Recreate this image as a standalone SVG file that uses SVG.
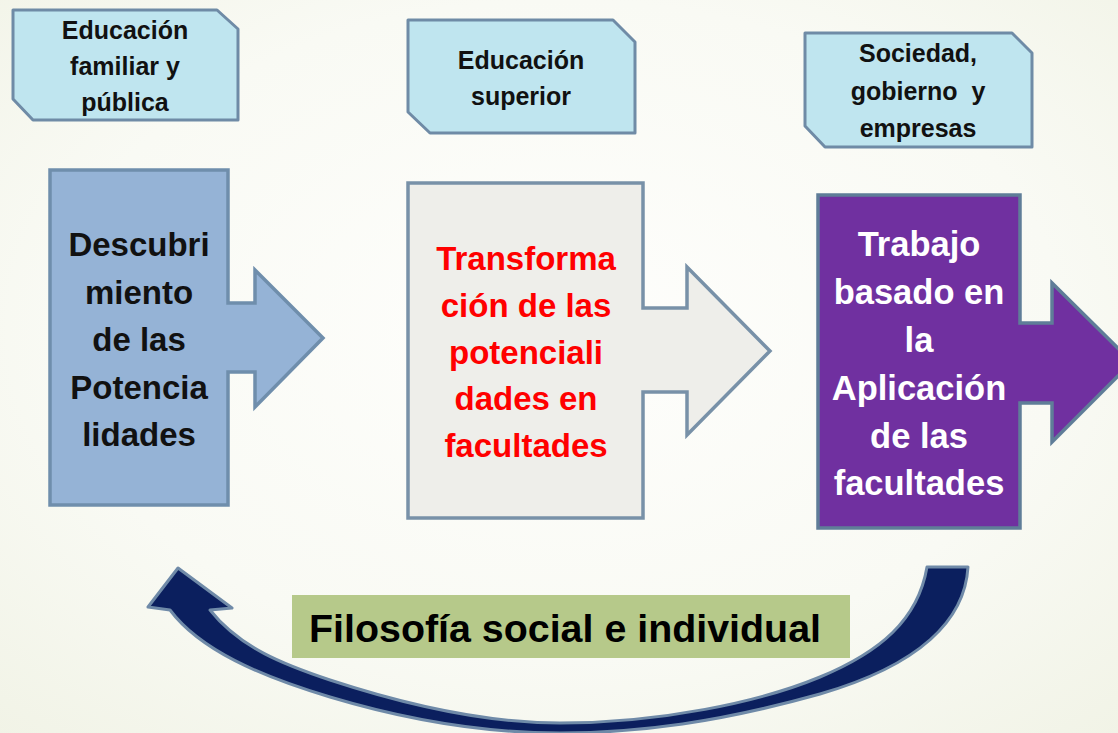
<svg xmlns="http://www.w3.org/2000/svg" width="1118" height="733" viewBox="0 0 1118 733">
<defs>
<radialGradient id="bg" cx="0.5" cy="0.45" r="0.75">
<stop offset="0" stop-color="#fefefc"/>
<stop offset="0.6" stop-color="#f9faf4"/>
<stop offset="1" stop-color="#f1f3e6"/>
</radialGradient>
<style>
.tag{fill:#bfe5ef;stroke:#6f8ba6;stroke-width:3;stroke-linejoin:round}
.tt{font-family:"Liberation Sans",Arial,sans-serif;font-weight:bold;font-size:25px;fill:#111;text-anchor:middle;white-space:pre}
.mt{font-family:"Liberation Sans",Arial,sans-serif;font-weight:bold;font-size:33px;text-anchor:middle}
.box{stroke-width:3.5;stroke-linejoin:miter}
</style>
</defs>
<rect width="1118" height="733" fill="url(#bg)"/>

<g id="tag1">
<path class="tag" d="M13,10 H217 L238,29 V120 H33 L13,99 Z"/>
<text class="tt" x="125" y="39">Educación</text>
<text class="tt" x="125" y="75">familiar y</text>
<text class="tt" x="125" y="111">pública</text>
</g>
<g id="tag2">
<path class="tag" d="M408,20 H613 L635,42 V133 H430 L408,112 Z"/>
<text class="tt" x="521" y="69">Educación</text>
<text class="tt" x="521" y="105">superior</text>
</g>
<g id="tag3">
<path class="tag" d="M805,33 H1012 L1032,53 V147 H825 L805,126 Z"/>
<text class="tt" x="918" y="62">Sociedad,</text>
<text class="tt" x="918" y="100">gobierno  y</text>
<text class="tt" x="918" y="137">empresas</text>
</g>

<g id="step1">
<path class="box" fill="#95b3d6" stroke="#6f8eac" d="M50,170 H228 V303 H255 V270 L323,338 L255,407 V372 H228 V505 H50 Z"/>
<g class="mt" fill="#111">
<text x="139" y="256">Descubri</text>
<text x="139" y="303.5">miento</text>
<text x="139" y="351">de las</text>
<text x="139" y="398.5">Potencia</text>
<text x="139" y="446">lidades</text>
</g>
</g>
<g id="step2">
<path class="box" fill="#eeeeea" stroke="#7891a8" d="M408,183 H643 V308 H687 V267 L770,351 L687,435 V392 H643 V518 H408 Z"/>
<g class="mt" fill="#ff0000">
<text x="526" y="270">Transforma</text>
<text x="526" y="317">ción de las</text>
<text x="526" y="363.5">potenciali</text>
<text x="526" y="410">dades en</text>
<text x="526" y="457">facultades</text>
</g>
</g>
<g id="step3">
<path class="box" fill="#7030a0" stroke="#5f7d98" d="M818,195 H1020 V323 H1052 V283 L1132,362 L1052,442 V403 H1020 V528 H818 Z"/>
<g class="mt" fill="#ffffff" style="font-size:34.5px">
<text x="919" y="256">Trabajo</text>
<text x="919" y="303.5">basado en</text>
<text x="919" y="351.5">la</text>
<text x="919" y="399.5">Aplicación</text>
<text x="919" y="447.5">de las</text>
<text x="919" y="495">facultades</text>
</g>
</g>

<g id="connectors">
<path fill="#0b1f5e" stroke="#6f8aa8" stroke-width="3" stroke-linejoin="round" d="M968,567 C965,620 920,665 820,694 C720,722 640,733 560,733 C470,733 390,715 330,697 C260,676 200,650 170,610 L148,607 L178,568 L232,608 L210,610 C240,648 285,665 330,680 C400,703 480,723 560,723 C660,723 760,702 820,677 C880,652 918,620 927,567 Z"/>
</g>

<g id="philosophy">
<rect x="292" y="595" width="558" height="63" fill="#b6c98a"/>
<text x="309" y="642" font-family="'Liberation Sans',Arial,sans-serif" font-weight="bold" font-size="39" fill="#000" textLength="512" lengthAdjust="spacingAndGlyphs">Filosofía social e individual</text>
</g>
</svg>
